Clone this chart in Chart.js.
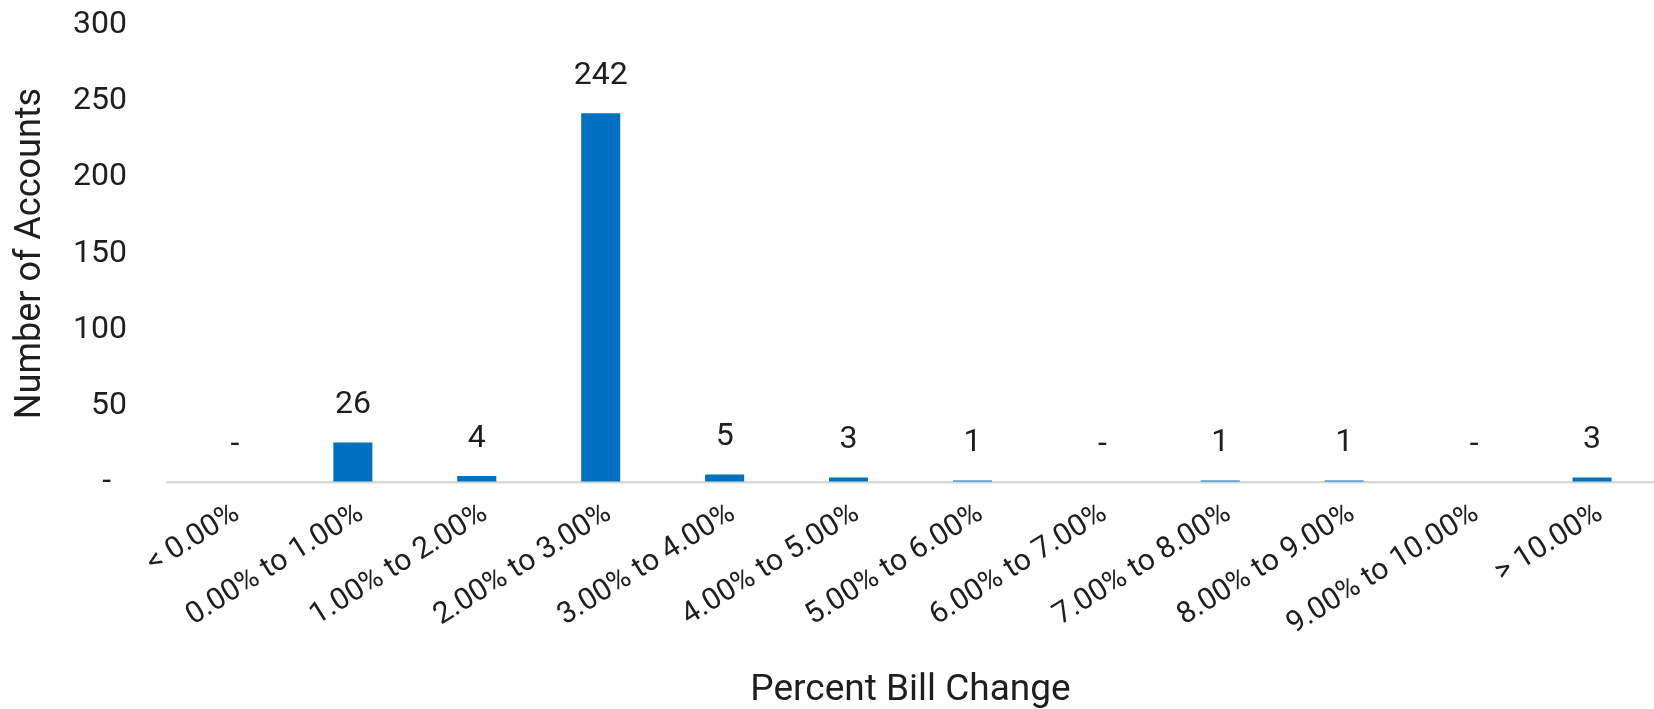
<!DOCTYPE html>
<html>
<head>
<meta charset="utf-8">
<script src="https://cdn.jsdelivr.net/npm/chart.js@4.4.1/dist/chart.umd.min.js"></script>
<style>
html,body{margin:0;padding:0;background:#fff;}
#wrap{width:1654px;height:709px;position:relative;}
</style>
</head>
<body>
<div id="wrap"><canvas id="c" width="1654" height="709"></canvas></div>
<script>
const categories = ["< 0.00%","0.00% to 1.00%","1.00% to 2.00%","2.00% to 3.00%","3.00% to 4.00%","4.00% to 5.00%","5.00% to 6.00%","6.00% to 7.00%","7.00% to 8.00%","8.00% to 9.00%","9.00% to 10.00%","> 10.00%"];
const accounts = [0, 26, 4, 242, 5, 3, 1, 0, 1, 1, 0, 3];
const yTicks = [0, 50, 100, 150, 200, 250, 300];

const FONT = "Roboto, 'Liberation Sans', Arial, sans-serif";
const TXT = "#1e1e1e";

const valueLabels = {
  id: 'valueLabels',
  afterDatasetsDraw(chart) {
    const ctx = chart.ctx;
    const meta = chart.getDatasetMeta(0);
    ctx.save();
    ctx.font = "32px " + FONT;
    ctx.fillStyle = TXT;
    ctx.textAlign = 'center';
    ctx.textBaseline = 'middle';
    meta.data.forEach((bar, i) => {
      const v = accounts[i];
      if (v === 0) {
        ctx.fillText('-', bar.x + 6, bar.y - 37);
      } else {
        ctx.fillText(String(v), bar.x, bar.y - 37);
      }
    });
    ctx.restore();
  }
};

new Chart(document.getElementById('c'), {
  type: 'bar',
  data: {
    labels: categories,
    datasets: [{
      data: accounts,
      backgroundColor: '#0070C0',
      borderWidth: 0,
      barPercentage: 0.315,
      categoryPercentage: 1.0
    }]
  },
  plugins: [valueLabels],
  options: {
    responsive: false,
    animation: false,
    devicePixelRatio: 1,
    layout: { padding: { left: 0, right: 0, top: 25, bottom: 0 } },
    plugins: { legend: { display: false }, tooltip: { enabled: false } },
    scales: {
      x: {
        grid: { display: false, drawTicks: false },
        border: { display: true, color: '#d9d9d9', width: 2.5 },
        ticks: {
          color: TXT,
          font: { family: FONT, size: 30 },
          minRotation: 32,
          maxRotation: 32,
          padding: 14,
          labelOffset: 8,
          autoSkip: false
        },
        title: {
          display: true,
          text: 'Percent Bill Change',
          color: TXT,
          font: { family: FONT, size: 37, lineHeight: 1 },
          padding: { top: 0, bottom: 0 }
        },
        afterFit(scale) { scale.height = 227; }
      },
      y: {
        min: 0,
        max: 300,
        afterBuildTicks(scale) { scale.ticks = yTicks.map(v => ({ value: v })); },
        grid: { display: true, drawOnChartArea: false, drawTicks: true, tickLength: 36, tickColor: 'rgba(0,0,0,0)' },
        border: { display: false },
        ticks: {
          color: TXT,
          font: { family: FONT, size: 32 },
          padding: 4,
          callback: (v) => v === 0 ? '-  ' : String(v)
        },
        title: {
          display: true,
          text: 'Number of Accounts',
          color: TXT,
          font: { family: FONT, size: 36 },
          padding: { top: 9, bottom: 0 }
        },
        afterFit(scale) { scale.width = 167; }
      }
    }
  }
});
</script>
</body>
</html>
